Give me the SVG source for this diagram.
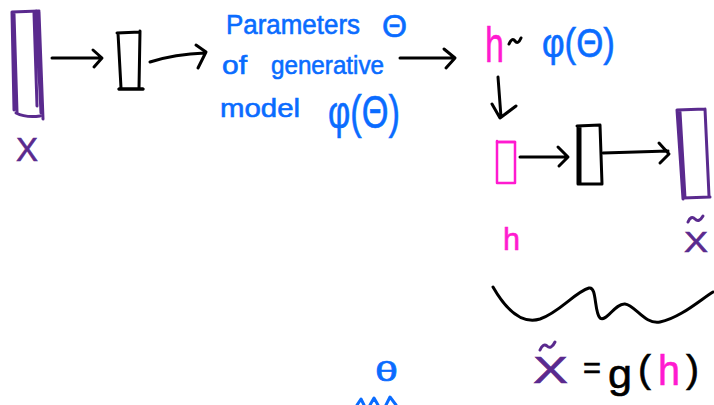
<svg xmlns="http://www.w3.org/2000/svg" width="714" height="405" viewBox="0 0 714 405">
  <style>
    .ink { fill: none; stroke-linecap: round; stroke-linejoin: round; }
    .k { stroke: #000; stroke-width: 3; }
    .p { stroke: #5a2a8e; stroke-width: 3; }
    .m { stroke: #ff1ad0; stroke-width: 2.5; }
    .b { stroke: #0a6cff; stroke-width: 3; }
    .t { font-family: "Liberation Sans", "DejaVu Sans", sans-serif; stroke-width: 0.6; }
    .blue { fill: #0a6cff; stroke: #0a6cff; }
    .pur { fill: #5a2a8e; stroke: #5a2a8e; }
    .pink { fill: #ff1ad0; stroke: #ff1ad0; }
    .blk { fill: #000; stroke: #000; }
  </style>
  <rect width="714" height="405" fill="#fff"/>

  <!-- input vector x -->
  <g id="input-x">
    <path class="ink p" d="M12,12 L14,110 M14,14 L17,112 M12,12 L39,11 M36,11 L41,113 M39,12 L43,119 M34,13 L37,106 M16,113 Q26,118 40,116"/>
  </g>
  <g id="label-x">
    <text class="t pur" x="16" y="161" font-size="34" textLength="22" lengthAdjust="spacingAndGlyphs">X</text>
  </g>

  <!-- encoder hidden layer -->
  <g id="encoder">
    <path class="ink k" d="M117,33 L140,32 M118,33 L121,88 M140,31 L139,88 M119,89 L143,89"/>
    <path class="ink k" stroke-width="4" d="M119,89 L143,89"/>
  </g>

  <!-- parameters text -->
  <g id="parameters">
    <text class="t blue" x="226" y="34" font-size="27" textLength="134" lengthAdjust="spacingAndGlyphs">Parameters</text>
    <text class="t blue" x="382" y="37" font-size="32" textLength="25" lengthAdjust="spacingAndGlyphs">Θ</text>
    <text class="t blue" x="222" y="74" font-size="26" textLength="25" lengthAdjust="spacingAndGlyphs">of</text>
    <text class="t blue" x="271" y="74" font-size="26" textLength="113" lengthAdjust="spacingAndGlyphs">generative</text>
    <text class="t blue" x="220" y="117" font-size="26" textLength="80" lengthAdjust="spacingAndGlyphs">model</text>
    <text class="t blue" x="328" y="128" font-size="46" textLength="72" lengthAdjust="spacingAndGlyphs">φ(Θ)</text>
  </g>

  <!-- sampled code -->
  <g id="sample">
    <text class="t pink" x="485" y="62" font-size="50" textLength="19" lengthAdjust="spacingAndGlyphs">h</text>
    <path class="ink k" stroke-width="2" d="M509,44 Q512,37 515,41 Q518,45 521,38"/>
    <text class="t blue" x="542" y="57" font-size="40" textLength="73" lengthAdjust="spacingAndGlyphs">φ(Θ)</text>
  </g>

  <!-- code vector h -->
  <g id="code-h">
    <path class="ink m" d="M497,142 L515,142 M497,141 L497,183 M515,142 L515,183 M497,183 L515,183"/>
    <path class="ink m" stroke-width="4" d="M497,142 L515,142"/>
  </g>
  <g id="label-h">
    <text class="t pink" x="503" y="250" font-size="32" textLength="17" lengthAdjust="spacingAndGlyphs">h</text>
  </g>

  <!-- decoder hidden layer -->
  <g id="decoder">
    <path class="ink k" d="M577,126 L600,125 M578,126 L578,184 M580,126 L580,183 M600,125 L602,184 M578,184 L602,184"/>
  </g>

  <!-- reconstruction x tilde -->
  <g id="output-x">
    <path class="ink p" d="M677,110 L705,109 M677,110 L683,199 M680,112 L685,198 M705,109 L709,196 M683,198 L710,197"/>
  </g>
  <g id="label-xtilde">
    <path class="ink p" stroke-width="2.5" d="M688,222 Q691,215 695,219 Q699,223 703,216"/>
    <text class="t pur" x="684" y="252" font-size="30" textLength="24" lengthAdjust="spacingAndGlyphs">X</text>
  </g>

  <!-- connectors -->
  <g id="connectors">
    <path class="ink k" d="M52,58 L101,58 M93,50 L102,58 L94,67"/>
    <path class="ink k" d="M150,62 Q175,54 205,53 M196,45 L206,52 L198,68"/>
    <path class="ink k" d="M400,58 L453,58 M444,49 L455,58 L446,68"/>
    <path class="ink k" d="M498,77 L501,117 M492,104 L500,118 L516,106"/>
    <path class="ink k" stroke-width="2.5" d="M520,157 L567,157 M558,147 L568,157 L559,166"/>
    <path class="ink k" stroke-width="2.5" d="M603,153 L668,151 M659,143 L669,154 L660,163"/>
  </g>

  <!-- brace under the decoder -->
  <g id="brace">
    <path class="ink k" stroke-width="2.5" d="M493,287 C505,308 520,325 540,319 C560,312 575,292 589,288 C597,286 594,312 600,318 C606,323 615,303 625,304 C635,305 645,325 660,322 C680,318 700,300 713,292"/>
  </g>

  <!-- x tilde = g(h) -->
  <g id="equation">
    <path class="ink p" stroke-width="2.5" d="M540,350 Q543,343 547,346 Q551,350 555,342"/>
    <text class="t pur" x="533" y="383" font-size="36" textLength="35" lengthAdjust="spacingAndGlyphs">X</text>
    <text class="t blk" x="583" y="378" font-size="30" textLength="18" lengthAdjust="spacingAndGlyphs">=</text>
    <text class="t blk" x="608" y="388" font-size="40" textLength="24" lengthAdjust="spacingAndGlyphs">g</text>
    <text class="t blk" x="638" y="382" font-size="38" textLength="13" lengthAdjust="spacingAndGlyphs">(</text>
    <text class="t pink" x="658" y="385" font-size="42" textLength="22" lengthAdjust="spacingAndGlyphs">h</text>
    <text class="t blk" x="686" y="382" font-size="38" textLength="13" lengthAdjust="spacingAndGlyphs">)</text>
  </g>

  <!-- theta at the bottom -->
  <g id="theta">
    <text class="t blue" x="375" y="381" font-size="28" textLength="23" lengthAdjust="spacingAndGlyphs">θ</text>
    <path class="ink b" stroke-width="2.5" d="M357,405 L361,399 L364,405 M370,405 L374,398 L378,405 M386,405 L390,397 L396,405"/>
  </g>
</svg>
